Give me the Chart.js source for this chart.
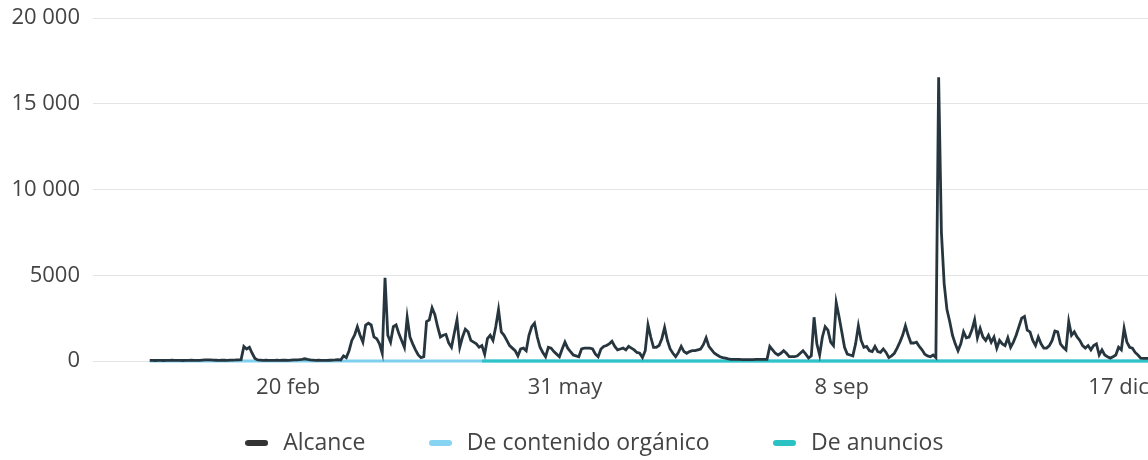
<!DOCTYPE html>
<html>
<head>
<meta charset="utf-8">
<script src="https://cdn.jsdelivr.net/npm/chart.js@4.4.0/dist/chart.umd.min.js"></script>
<style>
  html, body { margin: 0; padding: 0; overflow: hidden; background: #fff; }
  canvas { display: block; }
</style>
</head>
<body>
<canvas id="reachChart" width="1185" height="460"></canvas>
<script>
// daily reach, day 0 = 1 ene
const alcance = [
  40, 35, 30, 35, 40, 30, 35, 40, 45, 40,
  35, 40, 30, 35, 40, 45, 40, 35, 40, 50,
  60, 70, 60, 50, 45, 40, 50, 45, 40, 50,
  55, 60, 70, 80, 850, 700, 800, 450, 150, 60,
  50, 40, 45, 40, 35, 40, 45, 40, 50, 45,
  40, 50, 60, 70, 80, 100, 130, 90, 60, 50,
  40, 45, 40, 35, 40, 45, 50, 60, 80, 60,
  300, 200, 600, 1200, 1500, 2000, 1500, 1100, 2100, 2200,
  2100, 1400, 1300, 1000, 450, 4850, 1500, 1100, 2000, 2100,
  1600, 1200, 800, 2550, 1400, 1000, 650, 350, 200, 250,
  2300, 2400, 3100, 2700, 2000, 1400, 1500, 1550, 1050, 800,
  1600, 2400, 800, 1400, 1850, 1700, 1200, 1100, 1000, 800,
  900, 400, 1300, 1500, 1200, 2000, 3000, 1700, 1500, 1200,
  900, 750, 600, 300, 700, 750, 600, 1500, 2000, 2200,
  1400, 800, 500, 250, 800, 750, 550, 400, 250, 700,
  1100, 750, 550, 350, 300, 250, 700, 750, 750, 750,
  700, 400, 250, 700, 850, 900, 1000, 1150, 850, 650,
  700, 750, 650, 850, 750, 650, 500, 450, 200, 600,
  2100, 1400, 800, 800, 900, 1300, 1950, 1200, 700, 450,
  250, 500, 850, 550, 450, 550, 600, 600, 650, 700,
  950, 1350, 850, 650, 450, 350, 250, 200, 170, 120,
  100, 100, 90, 90, 80, 80, 80, 80, 80, 90,
  90, 100, 100, 100, 850, 650, 450, 350, 450, 600,
  450, 250, 250, 250, 300, 450, 600, 400, 170, 300,
  2550, 1000, 350, 1400, 2000, 1800, 1100, 900, 3400, 2600,
  1700, 800, 400, 350, 300, 1000, 2050, 1200, 800, 850,
  600, 550, 850, 550, 500, 700, 500, 200, 300, 450,
  750, 1100, 1500, 2050, 1500, 1050, 1050, 1100, 850, 650,
  400, 300, 250, 350, 200, 16550, 7500, 4500, 3000, 2300,
  1500, 1000, 600, 1000, 1700, 1350, 1400, 1800, 2400, 1350,
  1900, 1400, 1200, 1500, 1100, 1400, 750, 1200, 1000, 900,
  1350, 800, 1100, 1500, 2000, 2500, 2600, 1800, 1700, 1200,
  900, 1400, 1000, 750, 750, 900, 1200, 1750, 1700, 1000,
  800, 650, 2300, 1500, 1700, 1400, 1200, 900, 750, 900,
  650, 900, 1000, 350, 650, 350, 250, 170, 250, 350,
  800, 650, 1900, 1100, 800, 750, 500, 350, 170, 150,
  150, 150, 150, 150, 150
];

const organico = [
  0, 0, 0, 0, 0, 0, 0, 0, 0, 0, 0, 0, 0, 0, 0, 0, 0, 0, 0, 0,
  0, 0, 0, 0, 0, 0, 0, 0, 0, 0, 0, 0, 0, 0, 0, 0, 0, 0, 0, 0,
  0, 0, 0, 0, 0, 0, 0, 0, 0, 0, 0, 0, 0, 0, 0, 0, 0, 0, 0, 0,
  0, 0, 0, 0, 0, 0, 0, 0, 0, 0, 0, 0, 0, 0, 0, 0, 0, 0, 0, 0,
  0, 0, 0, 0, 0, 0, 0, 0, 0, 0, 0, 0, 0, 0, 0, 0, 0, 0, 0, 0,
  0, 0, 0, 0, 0, 0, 0, 0, 0, 0, 0, 0, 0, 0, 0, 0, 0, 0, 0, 0,
  0, 0, 0, 0, 0, 0, 0, 0, 0, 0, 0, 0, 0, 0, 0, 0, 0, 0, 0, 0,
  0, 0, 0, 0, 0, 0, 0, 0, 0, 0, 0, 0, 0, 0, 0, 0, 0, 0, 0, 0,
  0, 0, 0, 0, 0, 0, 0, 0, 0, 0, 0, 0, 0, 0, 0, 0, 0, 0, 0, 0,
  0, 0, 0, 0, 0, 0, 0, 0, 0, 0, 0, 0, 0, 0, 0, 0, 0, 0, 0, 0,
  0, 0, 0, 0, 0, 0, 0, 0, 0, 0, 0, 0, 0, 0, 0, 0, 0, 0, 0, 0,
  0, 0, 0, 0, 0, 0, 0, 0, 0, 0, 0, 0, 0, 0, 0, 0, 0, 0, 0, 0,
  0, 0, 0, 0, 0, 0, 0, 0, 0, 0, 0, 0, 0, 0, 0, 0, 0, 0, 0, 0,
  0, 0, 0, 0, 0, 0, 0, 0, 0, 0, 0, 0, 0, 0, 0, 0, 0, 0, 0, 0,
  0, 0, 0, 0, 0, 0, 0, 0, 0, 0, 0, 0, 0, 0, 0, 0, 0, 0, 0, 0,
  0, 0, 0, 0, 0, 0, 0, 0, 0, 0, 0, 0, 0, 0, 0, 0, 0, 0, 0, 0,
  0, 0, 0, 0, 0, 0, 0, 0, 0, 0, 0, 0, 0, 0, 0, 0, 0, 0, 0, 0,
  0, 0, 0, 0, 0, 0, 0, 0, 0, 0, 0, 0, 0, 0, 0, 0, 0, 0, 0, 0,
  0, 0, 0, 0, 0
];

// ads only show up from late april
const anuncios = [
  null, null, null, null, null, null, null, null, null, null, null, null, null, null, null, null, null, null, null, null,
  null, null, null, null, null, null, null, null, null, null, null, null, null, null, null, null, null, null, null, null,
  null, null, null, null, null, null, null, null, null, null, null, null, null, null, null, null, null, null, null, null,
  null, null, null, null, null, null, null, null, null, null, null, null, null, null, null, null, null, null, null, null,
  null, null, null, null, null, null, null, null, null, null, null, null, null, null, null, null, null, null, null, null,
  null, null, null, null, null, null, null, null, null, null, null, null, null, null, null, null, null, null, null, null,
  0, 0, 0, 0, 0, 0, 0, 0, 0, 0, 0, 0, 0, 0, 0, 0, 0, 0, 0, 0,
  0, 0, 0, 0, 0, 0, 0, 0, 0, 0, 0, 0, 0, 0, 0, 0, 0, 0, 0, 0,
  0, 0, 0, 0, 0, 0, 0, 0, 0, 0, 0, 0, 0, 0, 0, 0, 0, 0, 0, 0,
  0, 0, 0, 0, 0, 0, 0, 0, 0, 0, 0, 0, 0, 0, 0, 0, 0, 0, 0, 0,
  0, 0, 0, 0, 0, 0, 0, 0, 0, 0, 0, 0, 0, 0, 0, 0, 0, 0, 0, 0,
  0, 0, 0, 0, 0, 0, 0, 0, 0, 0, 0, 0, 0, 0, 0, 0, 0, 0, 0, 0,
  0, 0, 0, 0, 0, 0, 0, 0, 0, 0, 0, 0, 0, 0, 0, 0, 0, 0, 0, 0,
  0, 0, 0, 0, 0, 0, 0, 0, 0, 0, 0, 0, 0, 0, 0, 0, 0, 0, 0, 0,
  0, 0, 0, 0, 0, 0, 0, 0, 0, 0, 0, 0, 0, 0, 0, 0, 0, 0, 0, 0,
  0, 0, 0, 0, 0, 0, 0, 0, 0, 0, 0, 0, 0, 0, 0, 0, 0, 0, 0, 0,
  0, 0, 0, 0, 0, 0, 0, 0, 0, 0, 0, 0, 0, 0, 0, 0, 0, 0, 0, 0,
  0, 0, 0, 0, 0, 0, 0, 0, 0, 0, 0, 0, 0, 0, 0, 0, 0, 0, 0, 0,
  0, 0, 0, 0, 0
];

const seriesNames = ['Alcance', 'De contenido orgánico', 'De anuncios'];
const tickDays = [50, 150, 250, 350];
const tickLabels = ['20 feb', '31 may', '8 sep', '17 dic'];
const yTicks = [0, 5000, 10000, 15000, 20000];

const LEGEND_GAP = 60;
const LEGEND_FONT = 23;
const LEGEND_MIDDLE = 443;

document.addEventListener('DOMContentLoaded', () => {
  const ctx = document.getElementById('reachChart').getContext('2d');

  Chart.defaults.font.family = '"Open Sans", sans-serif';
  Chart.defaults.font.size = 22;
  Chart.defaults.color = '#444';

  const toPoints = arr => arr.map((v, i) => ({ x: i, y: v }));

  // rounded dash used as legend marker
  function dash(color) {
    const c = document.createElement('canvas');
    c.width = 23;
    c.height = 6;
    const g = c.getContext('2d');
    g.strokeStyle = color;
    g.lineWidth = 6;
    g.lineCap = 'round';
    g.beginPath();
    g.moveTo(3, 3);
    g.lineTo(20, 3);
    g.stroke();
    return c;
  }

  const fmt = v => v >= 10000 ? String(v).replace(/\B(?=(\d{3})+(?!\d))/g, '\u00a0') : String(v);

  // labels.padding is also the gap between legend items, so put the row back where it belongs
  const legendRow = {
    id: 'legendRow',
    afterLayout(chart) {
      chart.legend.top = LEGEND_MIDDLE - LEGEND_FONT / 2 - LEGEND_GAP;
    }
  };

  new Chart(ctx, {
    type: 'line',
    data: {
      datasets: [
        {
          label: seriesNames[0],
          data: toPoints(alcance),
          borderColor: '#27363e',
          borderWidth: 2.8,
          legendColor: '#333',
          clip: 4,
          order: 0
        },
        {
          label: seriesNames[1],
          data: toPoints(organico),
          borderColor: '#7fd0ef',
          borderWidth: 3,
          legendColor: '#86d3f2',
          clip: 4,
          order: 2
        },
        {
          label: seriesNames[2],
          data: toPoints(anuncios),
          borderColor: '#2ec3c5',
          borderWidth: 3,
          legendColor: '#2bc2c4',
          clip: 4,
          order: 1
        }
      ]
    },
    options: {
      responsive: false,
      animation: false,
      tension: 0,
      pointRadius: 0,
      spanGaps: false,
      layout: { padding: { top: 18, left: 0, right: 0, bottom: 0 } },
      scales: {
        x: {
          type: 'linear',
          min: -20.5,
          max: 374,
          grid: { display: false, drawTicks: false },
          border: { display: false },
          afterBuildTicks: s => { s.ticks = tickDays.map(v => ({ value: v })); },
          afterFit: s => { s.height = 41; s.paddingLeft = 0; s.paddingRight = 0; },
          ticks: {
            padding: 14,
            maxRotation: 0,
            autoSkip: false,
            callback: v => tickLabels[tickDays.indexOf(v)]
          }
        },
        y: {
          min: 0,
          max: 20000,
          afterBuildTicks: s => { s.ticks = yTicks.map(v => ({ value: v })); },
          afterFit: s => { s.width = 93; s.paddingTop = 0; s.paddingBottom = 0; },
          grid: { color: '#e4e4e4', lineWidth: 1, drawTicks: false },
          border: { display: false },
          ticks: { padding: 13, callback: v => fmt(v) }
        }
      },
      plugins: {
        tooltip: { enabled: false },
        legend: {
          position: 'bottom',
          maxHeight: 58,
          labels: {
            usePointStyle: true,
            pointStyleWidth: 30,
            padding: LEGEND_GAP,
            color: '#444',
            font: { size: LEGEND_FONT },
            sort: (a, b) => a.datasetIndex - b.datasetIndex,
            generateLabels: chart => {
              const items = Chart.defaults.plugins.legend.labels.generateLabels(chart);
              return items.map(item => {
                const ds = chart.data.datasets[item.datasetIndex];
                item.pointStyle = dash(ds.legendColor);
                return item;
              });
            }
          }
        }
      }
    },
    plugins: [legendRow]
  });
});
</script>
</body>
</html>
